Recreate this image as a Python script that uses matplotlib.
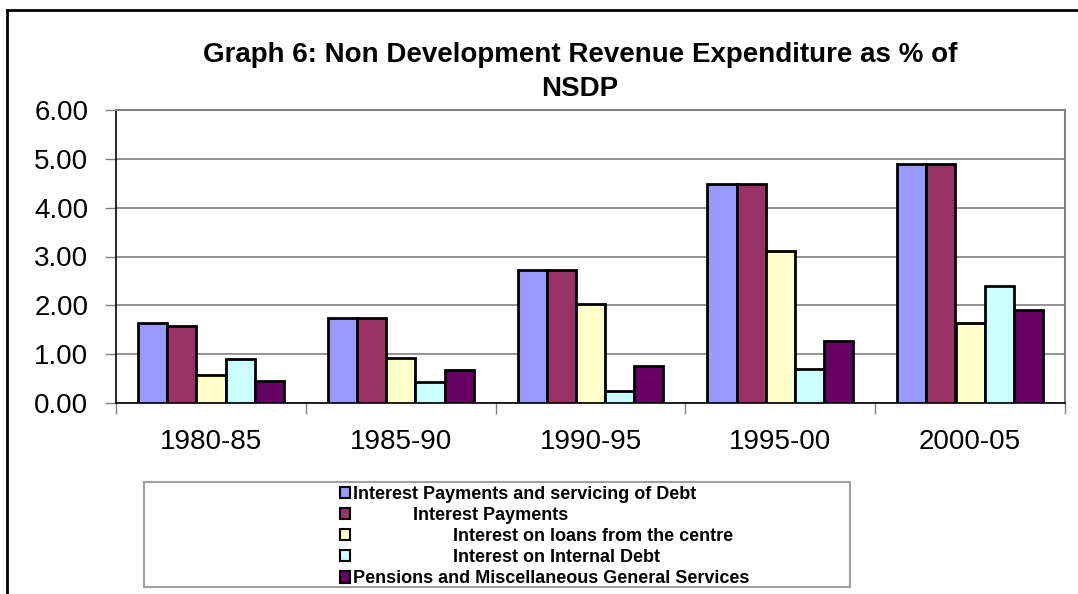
import matplotlib
matplotlib.use("Agg")
import matplotlib.pyplot as plt
import numpy as np
from matplotlib.patches import Patch, Rectangle
from matplotlib.lines import Line2D

plt.rcParams['font.family'] = ['Liberation Sans', 'DejaVu Sans']

categories = ["1980-85", "1985-90", "1990-95", "1995-00", "2000-05"]
series_names = [
    "Interest Payments and servicing of Debt",
    "            Interest Payments",
    "                    Interest on loans from the centre",
    "                    Interest on Internal Debt",
    "Pensions and Miscellaneous General Services",
]
debt_service = [1.64, 1.74, 2.72, 4.48, 4.89]
interest_payments = [1.58, 1.74, 2.72, 4.48, 4.89]
loans_centre = [0.58, 0.92, 2.03, 3.12, 1.64]
internal_debt = [0.91, 0.42, 0.25, 0.70, 2.40]
pensions = [0.45, 0.68, 0.75, 1.27, 1.90]
yticks = [0, 1, 2, 3, 4, 5, 6]

series = [debt_service, interest_payments, loans_centre, internal_debt, pensions]
colors = ["#9999FF", "#993366", "#FFFFCC", "#CCFFFF", "#660066"]

W, H = 1078, 594
fig = plt.figure(figsize=(W / 100, H / 100), dpi=100)
ax = fig.add_axes([116 / W, 1 - 403 / H, (1065 - 116) / W, (403 - 110) / H])

x = np.arange(len(categories))
bw = 1 / 6.5
for i, (vals, c) in enumerate(zip(series, colors)):
    ax.bar(x + (i - 2) * bw, vals, width=bw, color=c, edgecolor="black",
           linewidth=2, zorder=3, label=series_names[i])

ax.set_xlim(-0.5, len(categories) - 0.5)
ax.set_ylim(0, 6)
ax.set_yticks(yticks)
ax.set_yticklabels([f"{v:.2f}" for v in yticks])
ax.yaxis.grid(True, color="#808080", linewidth=1.2, zorder=0)
ax.set_axisbelow(True)

ax.set_xticks(np.arange(-0.5, len(categories) + 0.5, 1))
ax.set_xticklabels([""] * (len(categories) + 1))
ax.set_xticks(x, minor=True)
ax.set_xticklabels(categories, minor=True)
ax.tick_params(axis="x", which="major", length=8, width=1, color="#808080", direction="out")
ax.tick_params(axis="x", which="minor", length=0, labelsize=20, pad=19)
ax.tick_params(axis="y", length=8, width=1, color="#808080", direction="out", labelsize=20, pad=12)

ax.spines["left"].set_color("black")
ax.spines["left"].set_linewidth(1.2)
ax.spines["bottom"].set_color("black")
ax.spines["bottom"].set_linewidth(1.2)
ax.spines["top"].set_color("#808080")
ax.spines["right"].set_color("#808080")
ax.spines["top"].set_linewidth(1.5)
ax.spines["right"].set_linewidth(1.5)

fig.text(580 / W, 1 - 72 / H,
         "Graph 6: Non Development Revenue Expenditure as % of\nNSDP",
         ha="center", va="center", fontsize=20, fontweight="bold",
         linespacing=1.4)

# outer chart border
fig.add_artist(Line2D([7 / W, 7 / W], [1 - 10 / H, 0], color="black", linewidth=2, transform=fig.transFigure))
fig.add_artist(Line2D([7 / W, 1], [1 - 10 / H, 1 - 10 / H], color="black", linewidth=2, transform=fig.transFigure))

# legend box
fig.add_artist(Rectangle((144 / W, 1 - 587 / H), (850 - 144) / W, (587 - 482) / H,
                         transform=fig.transFigure, facecolor="white",
                         edgecolor="#a0a0a0", linewidth=1.5))
handles = [Patch(facecolor=c, edgecolor="black", linewidth=1.5) for c in colors]
leg = fig.legend(handles, series_names, loc="upper left",
                 bbox_to_anchor=(327 / W, 1 - 473 / H), frameon=False,
                 prop={"size": 13, "weight": "bold"}, handlelength=0.6,
                 handleheight=0.6, handletextpad=0.15, labelspacing=0.23,
                 borderpad=0.2)

fig.savefig("out.png", dpi=100)
